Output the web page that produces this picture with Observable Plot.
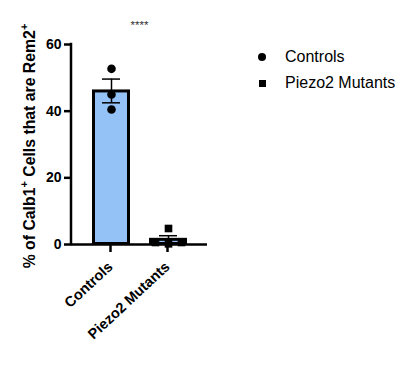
<!DOCTYPE html>
<html>
<head>
<meta charset="utf-8">
<script src="https://cdn.jsdelivr.net/npm/d3@7"></script>
<script src="https://cdn.jsdelivr.net/npm/@observablehq/plot@0.6"></script>
<style>
  html, body { margin: 0; padding: 0; background: #fff; }
  #wrap { position: relative; width: 414px; height: 384px; font-family: "Liberation Sans", Arial, sans-serif; }
  #legend { position: absolute; left: 257px; top: 44px; font-size: 16px; color: #000; }
  #legend .row { display: flex; align-items: center; height: 26px; }
  #legend .sym { width: 28px; display: flex; justify-content: flex-start; align-items: center; }
  #legend .circle { width: 8px; height: 8px; border-radius: 50%; background: #000; margin-left: 1px; }
  #legend .square { width: 7px; height: 7px; background: #000; margin-left: 2px; }
</style>
</head>
<body>
<div id="wrap"><div id="legend"></div></div>
<script>
// ---- data ----
const categories = ["Controls", "Piezo2 Mutants"];
const controlValues = [52.7, 45.0, 40.5];
const controlOffsets = [0, 0, 0];
const mutantValues = [4.8, 0.6, 0.2, 0.6];
const mutantOffsets = [0, -1, 0, 1];
const yTicks = [0, 20, 40, 60];
const significance = "****";
const yLabelParts = [["% of Calb1", false], ["+", true], [" Cells that are Rem2", false], ["+", true]];
const legendLabels = ["Controls", "Piezo2 Mutants"];

// ---- derived ----
function stats(vals) {
  const m = d3.mean(vals);
  const sem = d3.deviation(vals) / Math.sqrt(vals.length);
  return {mean: m, lo: m - sem, hi: m + sem};
}
const summary = [
  {group: categories[0], ...stats(controlValues)},
  {group: categories[1], ...stats(mutantValues)}
];
const points = [
  ...controlValues.map((v, i) => ({group: categories[0], value: v, off: controlOffsets[i], shape: "circle"})),
  ...mutantValues.map((v, i) => ({group: categories[1], value: v, off: mutantOffsets[i], shape: "square"}))
];
const jitter = 13;
const font = "Liberation Sans, Arial, sans-serif";

function dotMarks(off) {
  const data = points.filter(d => d.off === off);
  return [
    Plot.dot(data.filter(d => d.shape === "circle"), {x: "group", y: "value", r: 4.3, fill: "black", symbol: "circle", dx: off * jitter}),
    Plot.dot(data.filter(d => d.shape === "square"), {x: "group", y: "value", r: 4.3, fill: "black", symbol: "square", dx: off * jitter})
  ];
}

const chart = Plot.plot({
  width: 414,
  height: 384,
  marginLeft: 71,
  marginRight: 207,
  marginTop: 44,
  marginBottom: 140,
  style: {fontFamily: font, background: "white", overflow: "visible"},
  x: {domain: categories, padding: 0.37, axis: null},
  y: {domain: [0, 60], axis: null},
  marks: [
    Plot.barY(summary, {x: "group", y: "mean", fill: "#95c2f6", stroke: "black", strokeWidth: 3, inset: 0.5}),
    Plot.ruleX(summary, {x: "group", y1: "lo", y2: "hi", stroke: "black", strokeWidth: 1.5}),
    Plot.tickY(summary, {x: "group", y: "hi", stroke: "black", strokeWidth: 1.5, insetLeft: 9, insetRight: 9}),
    Plot.tickY(summary, {x: "group", y: "lo", stroke: "black", strokeWidth: 1.5, insetLeft: 9, insetRight: 9}),
    ...dotMarks(-1), ...dotMarks(0), ...dotMarks(1),
    Plot.ruleY([0], {stroke: "black", strokeWidth: 2.5}),
    Plot.axisY({ticks: yTicks, tickSize: 7, tickPadding: 3, fontSize: 14, fontWeight: "bold", stroke: "black", strokeWidth: 2.5, label: null, fill: "black"}),
    Plot.axisX({tickSize: 8, tickPadding: 12, tickRotate: -43, fontSize: 14.5, fontWeight: "bold", stroke: "black", strokeWidth: 2.5, label: null, fill: "black", dx: -1}),
    Plot.text([significance], {frameAnchor: "top", dy: -24, fontSize: 11.5, fill: "#333"}),
    (index, scales, values, dim) => {
      const g = d3.create("svg:g");
      g.append("line")
        .attr("x1", dim.marginLeft).attr("x2", dim.marginLeft)
        .attr("y1", scales.y(yTicks[0]) + 1.25).attr("y2", scales.y(yTicks[yTicks.length - 1]) - 1.25)
        .attr("stroke", "black").attr("stroke-width", 2.5);
      const cy = (scales.y(yTicks[0]) + scales.y(yTicks[yTicks.length - 1])) / 2 + 2;
      const t = g.append("text")
        .attr("transform", `translate(${dim.marginLeft - 36},${cy}) rotate(-90)`)
        .attr("text-anchor", "middle")
        .attr("font-size", 15.8).attr("font-weight", "bold").attr("fill", "black")
        .attr("font-family", font);
      yLabelParts.forEach(([s, sup], i) => {
        const ts = t.append("tspan").text(s);
        if (sup) ts.attr("font-size", 11).attr("dy", -7.5);
        else if (i > 0 && yLabelParts[i - 1][1]) ts.attr("dy", 7.5);
      });
      return g.node();
    }
  ]
});

const wrap = document.getElementById("wrap");
wrap.insertBefore(chart, wrap.firstChild);

const legend = d3.select("#legend");
legendLabels.forEach((lab, i) => {
  const row = legend.append("div").attr("class", "row");
  row.append("div").attr("class", "sym").append("div").attr("class", i === 0 ? "circle" : "square");
  row.append("span").text(lab);
});
</script>
</body>
</html>
